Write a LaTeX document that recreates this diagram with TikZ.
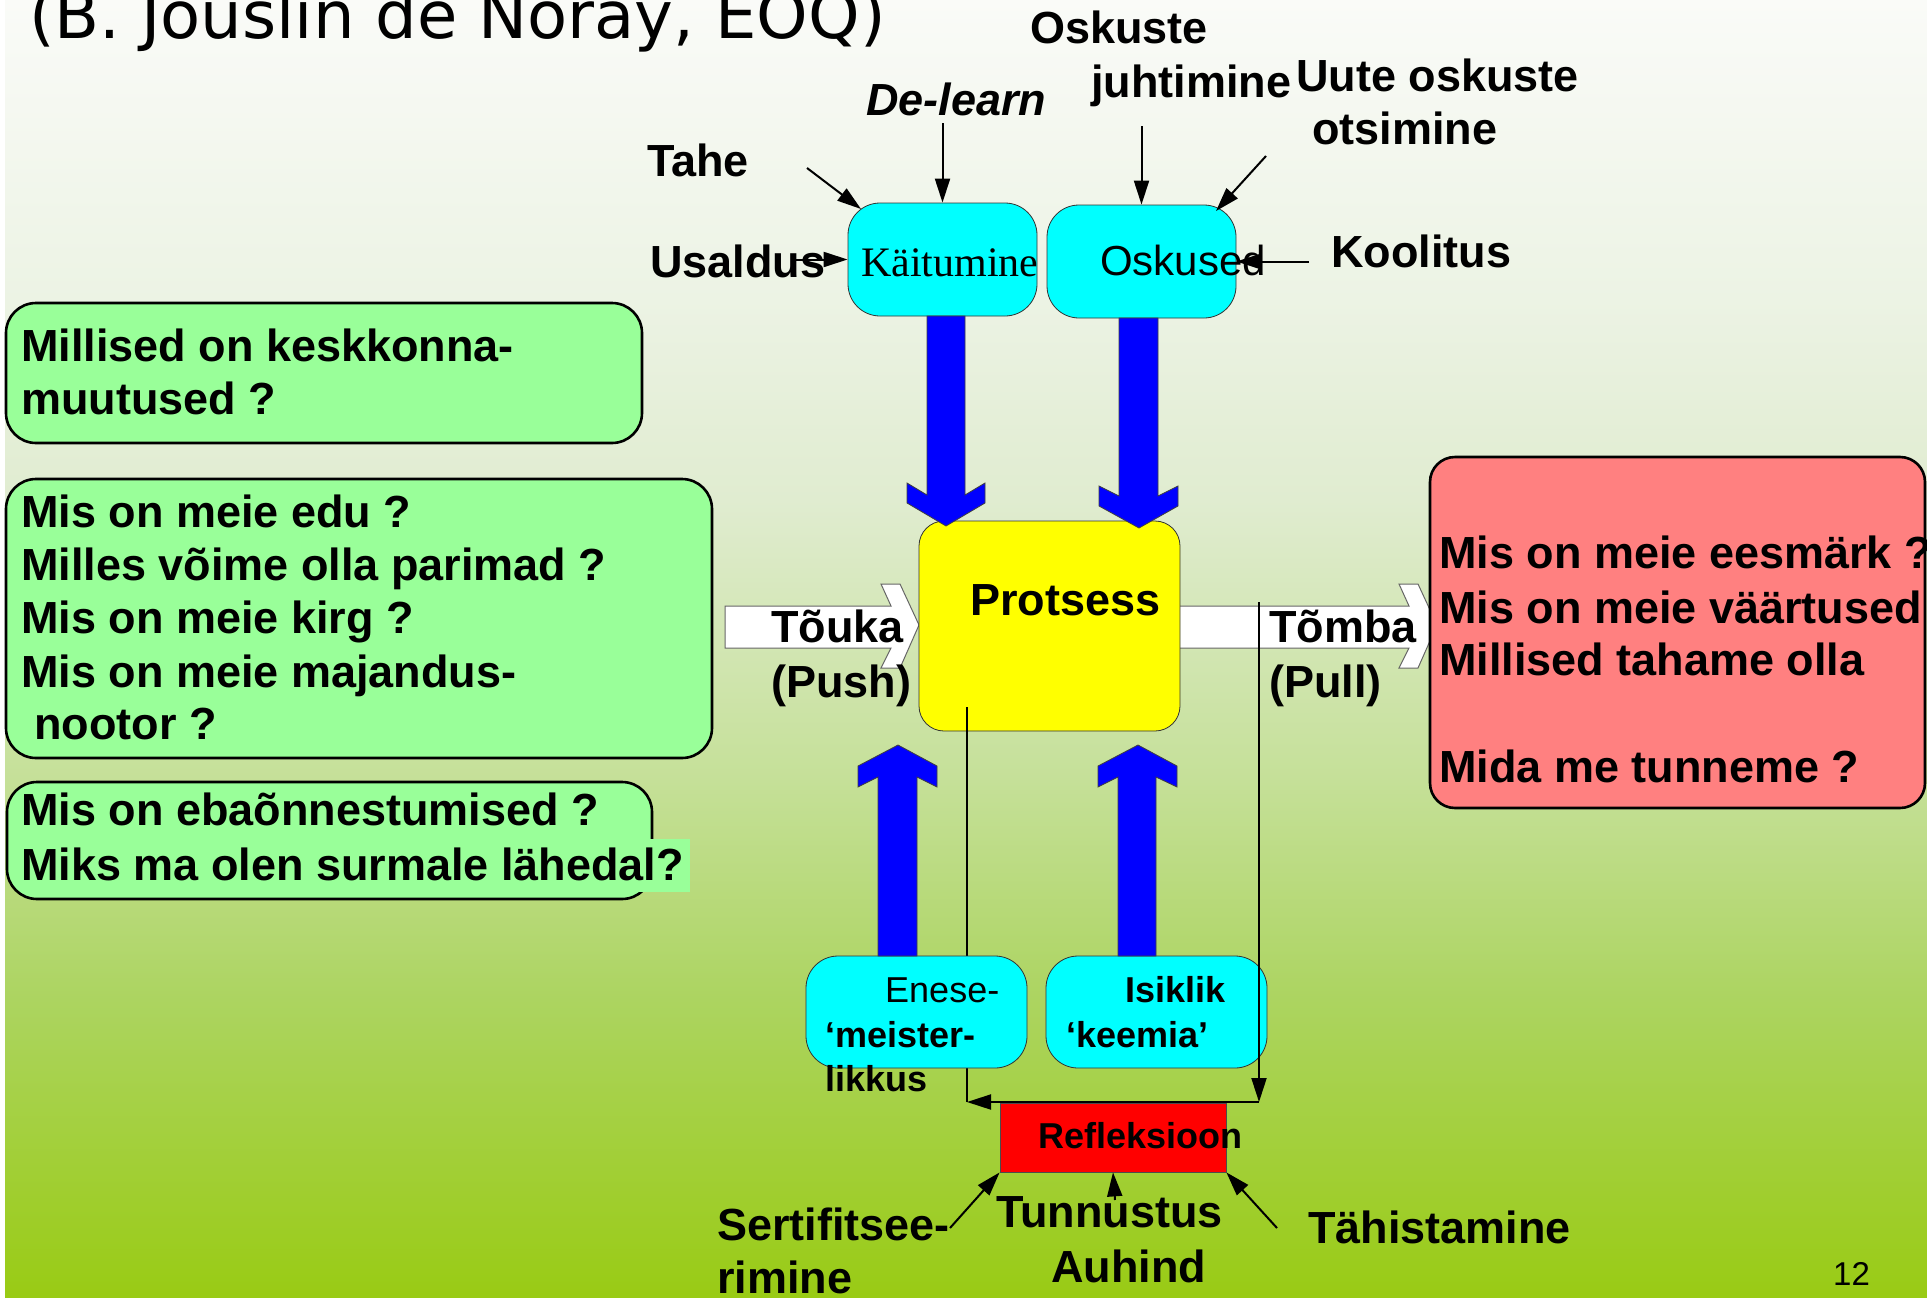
\documentclass[tikz,border=0pt]{standalone}
\usepackage{fontspec}
\setmainfont{Liberation Sans}
\newfontfamily\timesf{Liberation Serif}
\newfontfamily\dejavu{DejaVu Sans}
\usetikzlibrary{arrows.meta}
\definecolor{bgA}{RGB}{153,203,20}
\definecolor{bgB}{RGB}{172,212,96}
\definecolor{bgC}{RGB}{197,224,152}
\definecolor{bgD}{RGB}{224,236,208}
\definecolor{bgE}{RGB}{236,243,228}
\definecolor{bgF}{RGB}{250,251,248}
\definecolor{gfill}{RGB}{153,255,153}
\definecolor{pfill}{RGB}{255,128,128}
\definecolor{cfill}{RGB}{0,255,255}
\definecolor{yfill}{RGB}{255,255,0}
\definecolor{rfill}{RGB}{255,0,0}
\definecolor{bfill}{RGB}{0,0,255}
\pgfdeclareverticalshading{bgshade}{100bp}{color(0bp)=(bgA); color(25bp)=(bgA); color(36.5bp)=(bgB); color(44.95bp)=(bgC); color(55.75bp)=(bgD); color(63.45bp)=(bgE); color(75bp)=(bgF); color(100bp)=(bgF)}
\begin{document}
\begin{tikzpicture}[x=1pt,y=-1pt,
  lbl/.style={inner sep=0pt, anchor=base west, font=\bfseries\fontsize{45}{54}\selectfont},
  sml/.style={inner sep=0pt, anchor=base west, font=\bfseries\fontsize{36}{44}\selectfont},
  cbox/.style={draw=black!80, line width=0.8pt, fill=cfill, rounded corners=32pt, inner sep=0pt, minimum width=189pt, minimum height=113pt},
  ebox/.style={draw=black!80, line width=0.8pt, fill=cfill, rounded corners=32pt, inner sep=0pt, minimum width=221pt, minimum height=112pt},
  qbox/.style={draw=black, line width=2.6pt, rounded corners=30pt, inner sep=0pt},
  arr/.style={line width=2pt, -{Triangle[length=24pt,width=15pt]}},
  barrow/.style={fill=bfill, draw=black!75, line width=0.8pt},
  warrow/.style={fill=white, draw=black!60, line width=1pt}]
\useasboundingbox (0,0) rectangle (1927,1298);
\shade[shading=bgshade] (0,0) rectangle (1927,1298);
\fill[white] (0,0) rectangle (5,1298);

% title
\node[inner sep=0pt, anchor=base west, font=\dejavu\fontsize{65.6}{70}\selectfont] (title) at (29,39) {(B. Jouslin de Noray, EOQ)};

% push / pull white arrows
\draw[warrow] (725,606) -- (891,606) -- (881,584) -- (900,584) -- (919,625) -- (900,668) -- (881,668) -- (891,648) -- (725,648) -- cycle;
\draw[warrow] (1170,606) -- (1409,606) -- (1399,584) -- (1418,584) -- (1437,625) -- (1418,668) -- (1399,668) -- (1409,648) -- (1170,648) -- cycle;

% boxes
\node[cbox] (kait) at (942.5,259.5) {};
\node[cbox] (osk) at (1141.5,261.5) {};
\node[draw=black!80, line width=0.8pt, fill=yfill, rounded corners=25pt, minimum width=261pt, minimum height=210pt, inner sep=0pt] (prot) at (1049.5,626) {};
\node[draw=black!70, line width=0.8pt, fill=rfill, minimum width=226pt, minimum height=69pt, inner sep=0pt] (refl) at (1113,1137.5) {};
\node[qbox, fill=gfill, minimum width=636pt, minimum height=140pt] (g1) at (324,373) {};
\node[qbox, fill=gfill, minimum width=706pt, minimum height=279pt] (g2) at (359,618.5) {};
\node[qbox, fill=gfill, minimum width=645pt, minimum height=117pt] (g3) at (329.5,840.5) {};
\fill[gfill] (600,839) rectangle (690,892);
\node[qbox, fill=pfill, rounded corners=25pt, minimum width=495pt, minimum height=351pt] (pink) at (1677.5,632.5) {};

% connector coordinates
\coordinate (c-tahe) at (807,168);
\coordinate (c-kaitTL) at (861,209);
\coordinate (c-delearn) at (942.5,123);
\coordinate (c-usaldus) at (795,259.5);
\coordinate (c-oskj) at (1141.5,126);
\coordinate (c-uute) at (1266,156);
\coordinate (c-oskTR) at (1216,211);
\coordinate (c-kool) at (1309,261.5);
\coordinate (c-sert) at (950,1228);
\coordinate (c-tunn) at (1115,1200);
\coordinate (c-tah) at (1277,1228);
\coordinate (c-pull) at (1259,602);
\coordinate (c-corner) at (1259,1102);
\coordinate (c-lcorner) at (967,1102);
\coordinate (c-prot) at (967,707);

% feedback line from Protsess (passes beneath the Enese box)
\draw[line width=2pt] (c-lcorner) -- (c-prot);

% lower boxes
\node[ebox] (enese) at (916.5,1012) {};
\node[ebox] (isik) at (1156.5,1012) {};

% blue arrows
\draw[barrow] (927,316) -- (927,495) -- (907,483) -- (907,503) -- (946,526) -- (985,503) -- (985,483) -- (965,495) -- (965,316) -- cycle;
\draw[barrow] (1119,318) -- (1119,496) -- (1099,486) -- (1099,506) -- (1139,528) -- (1178,506) -- (1178,486) -- (1158,496) -- (1158,318) -- cycle;
\draw[barrow] (878,956) -- (878,777) -- (858,787) -- (858,766) -- (898,745) -- (937,766) -- (937,787) -- (917,777) -- (917,956) -- cycle;
\draw[barrow] (1118,956) -- (1118,777) -- (1098,787) -- (1098,766) -- (1138,745) -- (1177,766) -- (1177,787) -- (1156,777) -- (1156,956) -- cycle;

% texts
\node[lbl] (t-osk1) at (1030,44) {Oskuste};
\node[lbl] (t-osk2) at (1091,97) {juhtimine};
\node[lbl] (t-uute1) at (1296,92) {Uute oskuste};
\node[lbl] (t-uute2) at (1312,144) {otsimine};
\node[lbl, font=\bfseries\itshape\fontsize{45}{54}\selectfont] (t-delearn) at (866,115) {De-learn};
\node[lbl] (t-tahe) at (647,176) {Tahe};
\node[lbl] (t-usaldus) at (650,277) {Usaldus};
\node[lbl] (t-koolitus) at (1331,267) {Koolitus};
\node[inner sep=0pt, anchor=base west, font=\timesf\fontsize{42}{50}\selectfont] (t-kait) at (861,276) {Käitumine};
\node[inner sep=0pt, anchor=base west, font=\fontsize{42}{50}\selectfont] (t-oskused) at (1100,275) {Oskused};
\node[lbl] (t-prot) at (970,615) {Protsess};
\node[lbl] (t-touka) at (771,642) {Tõuka};
\node[lbl] (t-push) at (771,697) {(Push)};
\node[lbl] (t-tomba) at (1269,642) {Tõmba};
\node[lbl] (t-pull) at (1269,697) {(Pull)};

\node[lbl] (g1a) at (21,361) {Millised on keskkonna-};
\node[lbl] (g1b) at (21,414) {muutused ?};
\node[lbl] (g2a) at (21,527) {Mis on meie edu ?};
\node[lbl] (g2b) at (21,580) {Milles võime olla parimad ?};
\node[lbl] (g2c) at (21,633) {Mis on meie kirg ?};
\node[lbl] (g2d) at (21,687) {Mis on meie majandus-};
\node[lbl] (g2e) at (34,739) {nootor ?};
\node[lbl] (g3a) at (21,825) {Mis on ebaõnnestumised ?};
\node[lbl] (g3b) at (21,880) {Miks ma olen surmale lähedal?};

\node[lbl] (p1) at (1439,568) {Mis on meie eesmärk ?};
\node[lbl] (p2) at (1439,623) {Mis on meie väärtused};
\node[lbl] (p3) at (1439,675) {Millised tahame olla};
\node[lbl] (p4) at (1439,782) {Mida me tunneme ?};

\node[inner sep=0pt, anchor=base west, font=\fontsize{36}{44}\selectfont] (t-en1) at (885,1002) {Enese-};
\node[sml] (t-en2) at (825,1047) {‘meister-};
\node[sml] (t-en3) at (825,1091) {likkus};
\node[sml] (t-is1) at (1125,1002) {Isiklik};
\node[sml] (t-is2) at (1066,1047) {‘keemia’};
\node[sml] (t-refl) at (1038,1148) {Refleksioon};

\node[lbl] (t-sert1) at (717,1240) {Sertifitsee-};
\node[lbl] (t-sert2) at (717,1293) {rimine};
\node[lbl] (t-tunn) at (996,1227) {Tunnustus};
\node[lbl] (t-auh) at (1051,1282) {Auhind};
\node[lbl] (t-tah) at (1308,1243) {Tähistamine};
\node[inner sep=0pt, anchor=base west, font=\fontsize{33}{40}\selectfont] (pageno) at (1833,1285) {12};

% connectors
\draw[arr] (c-tahe) -- (c-kaitTL);
\draw[arr] (c-delearn) -- (kait.north);
\draw[arr] (c-usaldus) -- (kait.west);
\draw[arr] (c-oskj) -- (osk.north);
\draw[arr] (c-uute) -- (c-oskTR);
\draw[arr] (c-kool) -- (osk.east);
\draw[arr] (c-sert) -- (refl.south west);
\draw[arr] (c-tunn) -- (refl.south);
\draw[arr] (c-tah) -- (refl.south east);
\draw[arr] (c-pull) -- (c-corner);
\draw[arr] (c-corner) -- (c-lcorner);
\end{tikzpicture}
\end{document}
